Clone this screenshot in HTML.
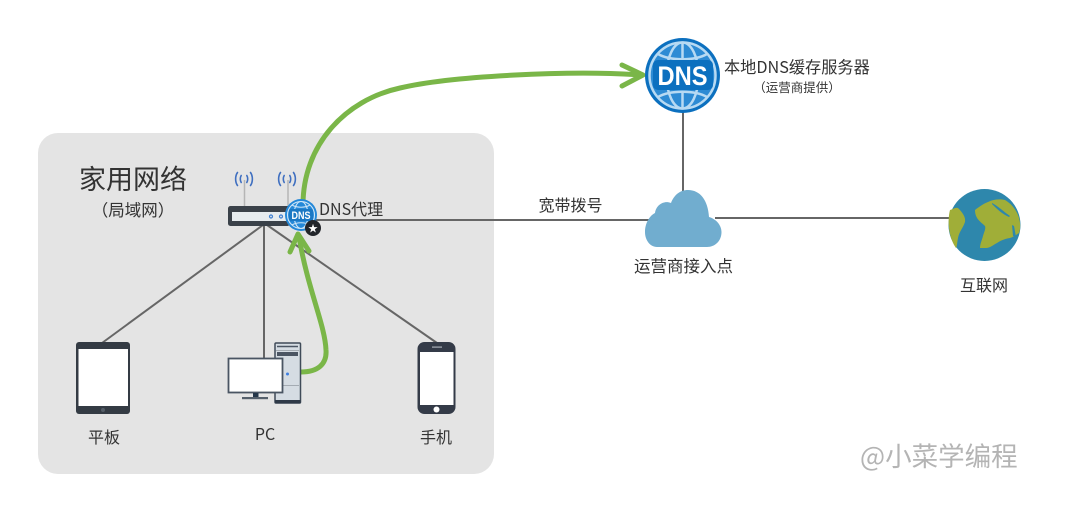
<!DOCTYPE html>
<html lang="zh">
<head>
<meta charset="utf-8">
<style>
html,body{margin:0;padding:0;background:#fff;width:1080px;height:513px;overflow:hidden}
svg{display:block}
text{font-family:"Noto Sans CJK SC","WenQuanYi Zen Hei","Liberation Sans",sans-serif;fill:#333}
</style>
</head>
<body>
<svg width="1080" height="513" viewBox="0 0 1080 513" xmlns="http://www.w3.org/2000/svg">
<defs>
<g id="wifi" fill="none" stroke="#3f6fc0" stroke-width="1.600" stroke-linecap="round">
<path d="M-6.500 -6.500 C-9 -3 -9 3 -6.500 6.500"/><path d="M6.500 -6.500 C9 -3 9 3 6.500 6.500"/>
<path d="M-2.800 -3.500 C-4 -1.500 -4 1.500 -2.800 3.500"/><path d="M2.800 -3.500 C4 -1.500 4 1.500 2.800 3.500"/>
</g>
</defs>
<rect x="38" y="133" width="456" height="341" rx="20" fill="#e4e4e4"/>

<!-- connectors -->
<g fill="none" stroke="#666" stroke-width="2">
<path d="M683 110V195"/>
<path d="M315 220H650"/>
<path d="M715 218H950"/>
<path d="M263 225L102 343"/>
<path d="M264 225V358"/>
<path d="M267 225L437 343"/>
</g>
<path d="M244.500 206V180M288 206V180" stroke="#b5b5b5" stroke-width="1.500" fill="none"/>
<use href="#wifi" x="244" y="179"/>
<use href="#wifi" x="287" y="179"/>

<!-- router -->
<rect x="228" y="206" width="62" height="20" rx="2.500" fill="#3a4149"/>
<rect x="232" y="212" width="60" height="9" fill="#e6ebee"/>
<circle cx="271" cy="216.500" r="1.500" fill="none" stroke="#3f7fd0" stroke-width="1.200"/>
<circle cx="281" cy="216.500" r="1.500" fill="none" stroke="#3f7fd0" stroke-width="1.200"/>

<!-- green arrows -->
<g fill="none" stroke="#7ab648" stroke-width="5" stroke-linecap="round" stroke-linejoin="round">
<path d="M303 205C303 145 345 100 400 88C450 76 570 70 642 75"/>
<path d="M622 65L643 75L622 86"/>
<path d="M301 372C318 372 327 364 326 350C325 325 308 290 299 237"/>
<path d="M290 252L298 234L309 251"/>
</g>

<!-- small DNS globe -->
<circle cx="301" cy="215" r="16" fill="#2488d8"/>
<g fill="none" stroke="#cfe6f7" stroke-width="1.100">
<circle cx="301" cy="215" r="13.500"/>
<ellipse cx="301" cy="215" rx="7" ry="13.500"/>
<path d="M292 205C297 208 305 208 310 205M292 225C297 222 305 222 310 225"/>
</g>
<rect x="289" y="209" width="24" height="12" rx="2" fill="#1b78c4"/>
<text x="301" y="219" font-size="11" font-weight="700" text-anchor="middle" textLength="19" lengthAdjust="spacingAndGlyphs" style="fill:#fff;font-family:'Liberation Sans',sans-serif">DNS</text>
<circle cx="313" cy="228" r="8" fill="#23262b"/>
<text x="313" y="232.500" font-size="12" text-anchor="middle" style="fill:#fff;font-family:'DejaVu Sans',sans-serif">★</text>

<!-- tablet -->
<rect x="76" y="342" width="54" height="72" rx="3" fill="#343b44"/>
<rect x="78.500" y="349" width="49.500" height="57" fill="#fff"/>
<circle cx="103" cy="410" r="2" fill="#555e68"/>

<!-- PC -->
<rect x="275" y="343" width="25.500" height="60" rx="1" fill="#d5dce3" stroke="#3f4a58" stroke-width="1.500"/>
<rect x="275" y="400" width="25.500" height="3.500" fill="#2f3a48"/>
<path d="M277 346.500H298" stroke="#4b5563" stroke-width="1.500"/>
<rect x="277" y="352" width="21" height="4" fill="#4b5563"/>
<path d="M276 350.500H299M276 385.500H299" stroke="#a4abb3" stroke-width="1"/>
<circle cx="287.500" cy="374" r="1.500" fill="#3f7fe0"/>
<rect x="228.500" y="358.500" width="54" height="34" fill="#fff" stroke="#4a5563" stroke-width="1.800"/>
<rect x="253" y="393" width="5.500" height="5" fill="#25374a"/>
<rect x="242" y="397" width="26" height="2.200" fill="#55606c"/>

<!-- phone -->
<rect x="417.500" y="342" width="38" height="72" rx="7" fill="#343b48"/>
<rect x="420" y="352" width="33.500" height="53" fill="#fff"/>
<rect x="432" y="346.500" width="10" height="1.200" fill="#aab0b8"/>
<circle cx="436.500" cy="409.500" r="3" fill="#fff"/>

<!-- large DNS globe -->
<circle cx="682.500" cy="75.500" r="37.500" fill="#0c70bf"/>
<circle cx="682.500" cy="75.500" r="33" fill="#2d8bd4"/>
<g fill="none" stroke="#b7daf3" stroke-width="2.500">
<circle cx="682.500" cy="75.500" r="33"/>
<ellipse cx="682.500" cy="75.500" rx="16" ry="33"/>
<path d="M682.500 42V60M682.500 92V109"/>
<path d="M658 54C670 61 695 61 707 54M658 97C670 90 695 90 707 97"/>
</g>
<rect x="653" y="60" width="60" height="30" rx="5" fill="#0c70bf"/>
<text x="682.500" y="85" font-size="27" font-weight="700" text-anchor="middle" style="fill:#fff;font-family:'Liberation Sans',sans-serif" textLength="50" lengthAdjust="spacingAndGlyphs">DNS</text>

<!-- cloud -->
<path d="M657 247C650 247 645 240 645 232C645 224 649 216 655 213C656 205 664 200 671 203C674 195 680 190 688 190C700 190 708 200 709 217C716 219 721.500 225 721.500 232C721.500 241 715 247 707 247Z" fill="#71adcf"/>

<!-- earth -->
<circle cx="984.500" cy="225" r="36" fill="#2e87ac"/>
<path d="M950 210C953 209 956 207 958 208C962 212 966 217 965 222C963 228 959 232 958 238C957 243 957 247 956 248C949 238 947 222 950 210Z" fill="#a0ae38"/>
<path d="M975 210C980 206 985 203 988 202C994 199 1000 199 1005 200C1012 204 1017 211 1019 218C1021 225 1020 230 1019 233C1016 235 1013 237 1010 238C1004 239 1000 241 997 243C993 245 990 248 986 248L980 248C980 244 982 240 983 236C984 232 986 229 985 226C981 222 975 219 975 210Z" fill="#a0ae38"/>
<path d="M992 203C998 206 1004 212 1010 216L1009 217C1002 214 997 209 992 204Z" fill="#2e87ac"/>
<path d="M1012 225L1014 226L1016 237L1013 236Z" fill="#2e87ac"/>

<!-- labels -->
<text x="133" y="189" font-size="27" text-anchor="middle">家用网络</text>
<text x="133" y="216" font-size="16.500" text-anchor="middle">（局域网）</text>
<text x="319" y="215" font-size="16">DNS代理</text>
<text x="570.500" y="211" font-size="16" text-anchor="middle">宽带拨号</text>
<text x="683.500" y="272" font-size="16.500" text-anchor="middle">运营商接入点</text>
<text x="984" y="291" font-size="16" text-anchor="middle">互联网</text>
<text x="724" y="73" font-size="16.200">本地DNS缓存服务器</text>
<text x="797" y="92" font-size="12.500" text-anchor="middle">（运营商提供）</text>
<text x="104" y="443" font-size="16" text-anchor="middle">平板</text>
<text x="265" y="440" font-size="16" text-anchor="middle">PC</text>
<text x="436" y="443" font-size="16" text-anchor="middle">手机</text>
<text x="860" y="466" font-size="26.500" style="fill:#b4b4b4">@小菜学编程</text>
</svg>
</body>
</html>
